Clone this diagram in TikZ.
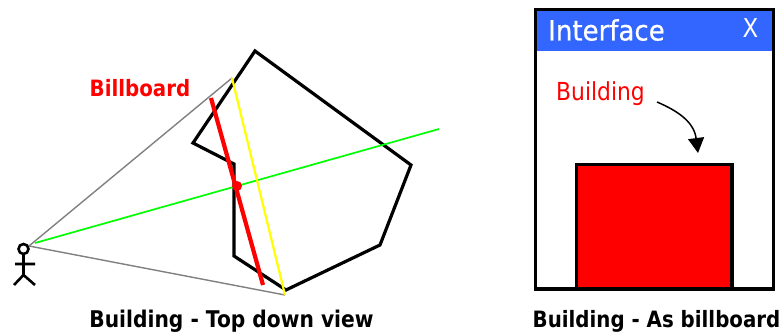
\documentclass[tikz,border=0pt]{standalone}
\usepackage{xcolor}
\usepackage{fontspec}
\setmainfont{DejaVu Sans}[FakeStretch=0.88]
\newfontfamily\titlefont{DejaVu Sans}[FakeStretch=0.93, FakeBold=0.6]
\usepackage{tikz}
\usetikzlibrary{arrows.meta, positioning, calc}
\definecolor{titleblue}{RGB}{51, 102, 255}
\definecolor{signred}{RGB}{255, 0, 0}
\definecolor{raygreen}{RGB}{0, 255, 0}
\definecolor{rayyellow}{RGB}{255, 255, 0}

\begin{document}
\begin{tikzpicture}[x=1pt, y=-1pt,
  every node/.style={inner sep=0pt, outer sep=0pt, anchor=base},
  outline/.style={black, line width=3.2pt, line join=miter},
  sightline/.style={gray, line width=1.4pt},
  caption/.style={font=\fontsize{23}{26}\selectfont\bfseries}]
  \useasboundingbox (0,0) rectangle (782,336);
  % points of the top down view
  \coordinate (eye) at (29,246); \coordinate (eyeB) at (35,243); \coordinate (rayEnd) at (439,129);
  \coordinate (yellowA) at (232,78); \coordinate (yellowB) at (285,295);
  \coordinate (boardA) at (211,98); \coordinate (boardB) at (263,285);
  % building
  \draw[outline] (255,51) -- (411,165) -- (380,245) -- (286,290) -- (234,256) -- (234,164) -- (193,143) -- cycle;
  \draw[sightline] (eye) -- (yellowA);
  \draw[sightline] (eye) -- (yellowB);
  \draw[raygreen, line width=1.7pt] (eyeB) -- (rayEnd);
  \draw[rayyellow, line width=2.2pt] (yellowA) -- (yellowB);
  \draw[signred, line width=4.2pt] (boardA) -- (boardB);
  \fill[signred] (237,186) circle (5);
  % viewer
  \draw[black, line width=2.6pt] (23.5,249) circle (5);
  \draw[black, line width=2.6pt] (23.5,254) -- (23.5,275) (15,264) -- (35,264) (14,285) -- (23.5,275) -- (35,285);
  \node[text=signred, font=\fontsize{22.5}{24}\selectfont\bfseries] (billboardlabel) at (140,96.5) {Billboard};
  \node[caption] (topcaption) at (231.5,328) {Building - Top down view};
  % interface window
  \fill[titleblue] (535.5,9.5) rectangle (773.5,51);
  \draw[outline] (535.5,9.5) rectangle (773.5,289);
  \draw[outline, fill=signred] (576.5,164.5) rectangle (732,289);
  \node[text=white, font=\fontsize{28}{30}\selectfont\titlefont] (windowtitle) at (606.5,40.5) {Interface};
  \node[text=white, font=\fontsize{26}{28}\selectfont] (closemark) at (750.5,38) {X};
  \node[text=signred, font=\fontsize{24.8}{26}\selectfont] (buildinglabel) at (600.5,101) {Building};
  \coordinate (arrowStart) at (657,102); \coordinate (arrowEnd) at (698,153);
  \draw[black, line width=1.5pt, -{Triangle[length=15pt, width=16pt]}] (arrowStart) .. controls (678,111) and (694,122) .. (arrowEnd);
  \node[caption, font=\fontsize{22.5}{26}\selectfont\bfseries] (sidecaption) at (656.5,328) {Building - As billboard};
\end{tikzpicture}
\end{document}
